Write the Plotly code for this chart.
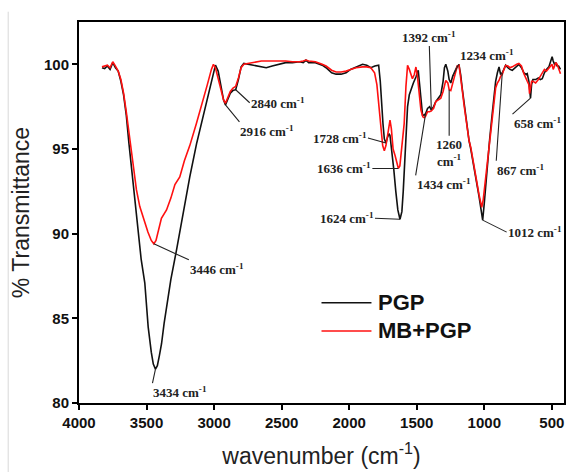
import plotly.graph_objects as go

# PGP (black) spectrum: wavenumber (cm-1) and % transmittance
pgp_w = [3830, 3810, 3790, 3770, 3750, 3730, 3710, 3690, 3670, 3650, 3630, 3600, 3570, 3540, 3513, 3488,
         3465, 3450, 3434, 3420, 3405, 3389, 3370, 3352, 3320, 3279, 3230, 3180, 3130, 3082, 3040, 3010,
         2990, 2970, 2950, 2930, 2916, 2900, 2880, 2861, 2840, 2820, 2800, 2780, 2750, 2700, 2650, 2614,
         2570, 2520, 2470, 2420, 2368, 2340, 2320, 2300, 2250, 2200, 2171, 2130, 2097, 2060, 2023, 1990,
         1950, 1901, 1870, 1840, 1810, 1782, 1770, 1760, 1750, 1740, 1728, 1716, 1705, 1698, 1685, 1670,
         1655, 1640, 1624, 1610, 1600, 1593, 1580, 1568, 1555, 1543, 1525, 1506, 1489, 1475, 1457, 1445,
         1434, 1420, 1405, 1392, 1375, 1359, 1340, 1322, 1305, 1295, 1285, 1270, 1260, 1248, 1234, 1216,
         1200, 1187, 1175, 1162, 1150, 1137, 1125, 1113, 1100, 1088, 1075, 1064, 1050, 1039, 1025, 1012,
         1000, 990, 978, 960, 941, 928, 916, 903, 891, 879, 867, 855, 842, 825, 810, 793,
         775, 760, 744, 725, 707, 690, 682, 670, 665, 658, 650, 640, 620, 600, 585, 571,
         555, 540, 522, 510, 498, 490, 480, 470, 461, 450, 436]
pgp_t = [99.8, 99.75, 99.9, 99.7, 100.1, 99.8, 99.6, 99.0, 98.2, 97.0, 95.3, 93.0, 90.6, 88.5, 87.1, 84.5,
         83.0, 82.3, 82.0, 82.2, 82.8, 83.5, 84.7, 85.7, 87.3, 89.0, 91.2, 93.35, 95.3, 96.9, 98.3, 99.4,
         99.95, 99.6, 98.8, 97.9, 97.6, 97.9, 98.3, 98.45, 98.5, 99.1, 99.85, 100.05, 100.0, 99.95, 99.85, 99.8,
         99.9, 100.0, 100.1, 100.1, 100.15, 100.1, 100.25, 100.1, 100.1, 99.95, 99.8, 99.5, 99.42, 99.42, 99.5, 99.7,
         99.85, 100.0, 99.95, 99.8, 99.9, 99.95, 99.0, 97.6, 96.5, 95.6, 95.35, 95.7, 95.9, 95.8, 95.0, 93.8,
         92.5, 91.4, 90.85, 91.3, 92.5, 93.6, 95.6, 97.5, 98.2, 98.5, 98.9, 99.25, 99.65, 98.5, 97.0, 97.0,
         97.1, 97.4, 97.5, 97.3, 97.5, 97.8, 98.0, 98.2, 99.0, 99.8, 100.0, 99.6, 99.1, 98.9, 99.3, 99.6,
         99.9, 99.95, 99.4, 98.5, 97.7, 96.9, 96.1, 95.5, 95.0, 94.5, 93.9, 93.3, 92.7, 92.2, 91.4, 90.8,
         91.8, 92.9, 94.0, 95.6, 97.1, 98.1, 99.0, 99.5, 99.84, 99.4, 99.5, 99.7, 99.95, 99.8, 99.7, 99.65,
         99.8, 99.9, 100.0, 99.8, 99.5, 99.4, 99.45, 99.0, 98.3, 98.0, 98.8, 99.1, 99.1, 99.2, 99.1, 99.15,
         99.5, 99.7, 99.85, 100.1, 100.45, 100.2, 100.0, 100.1, 99.9, 99.9, 99.7]

# MB+PGP (red) spectrum
mb_w = [3830, 3810, 3790, 3770, 3750, 3730, 3710, 3690, 3670, 3650, 3630, 3600, 3575, 3550, 3520, 3490,
        3465, 3446, 3430, 3410, 3390, 3352, 3320, 3290, 3254, 3220, 3180, 3131, 3090, 3050, 3020, 3005,
        2990, 2970, 2950, 2930, 2916, 2900, 2880, 2860, 2840, 2820, 2800, 2780, 2750, 2700, 2650, 2614,
        2570, 2520, 2470, 2420, 2368, 2340, 2320, 2300, 2250, 2200, 2171, 2130, 2097, 2060, 2023, 1990,
        1950, 1901, 1870, 1840, 1812, 1795, 1780, 1765, 1752, 1740, 1728, 1712, 1698, 1688, 1675, 1660,
        1645, 1636, 1625, 1612, 1600, 1593, 1580, 1568, 1555, 1545, 1532, 1518, 1506, 1495, 1480, 1469,
        1455, 1445, 1434, 1420, 1405, 1392, 1375, 1359, 1340, 1322, 1305, 1285, 1270, 1260, 1248, 1234,
        1216, 1200, 1187, 1175, 1162, 1150, 1137, 1125, 1113, 1100, 1088, 1075, 1064, 1050, 1039, 1025,
        1019, 1008, 1000, 990, 978, 960, 941, 928, 916, 903, 891, 879, 867, 855, 842, 825,
        810, 793, 775, 760, 744, 725, 707, 690, 682, 670, 665, 658, 650, 640, 620, 600,
        585, 571, 555, 540, 522, 510, 498, 490, 480, 470, 461, 450, 436]
mb_t = [99.85, 99.9, 99.95, 99.8, 100.15, 99.9, 99.6, 99.1, 98.3, 97.2, 96.0, 94.3, 92.6, 91.6, 90.8, 90.1,
        89.6, 89.4, 89.6, 90.2, 90.9, 91.4, 92.1, 92.9, 93.35, 94.3, 95.2, 96.5, 97.6, 98.8, 99.7, 100.0,
        99.8, 99.2, 98.5, 97.9, 97.7, 98.0, 98.4, 98.6, 98.7, 99.2, 99.8, 100.0, 100.05, 100.15, 100.2, 100.2,
        100.2, 100.2, 100.2, 100.15, 100.15, 100.2, 100.25, 100.2, 100.15, 100.0, 99.9, 99.65, 99.55, 99.55, 99.6, 99.7,
        99.8, 99.85, 99.85, 99.8, 99.5, 98.8, 97.5, 96.2, 95.2, 94.9, 95.2, 96.0, 96.7, 96.2, 95.0, 94.6,
        94.1, 93.85, 94.0, 95.0, 96.0, 96.5, 98.7, 99.94, 99.7, 99.4, 99.15, 99.4, 99.84, 99.3, 98.2, 97.3,
        96.9, 96.85, 96.95, 97.2, 97.2, 97.25, 97.4, 97.8, 97.9, 98.0, 98.4, 99.05, 98.9, 98.5, 98.45, 98.9,
        99.5, 99.9, 99.95, 99.3, 98.4, 97.6, 96.8, 96.1, 95.5, 95.1, 94.6, 94.0, 93.4, 92.8, 92.3, 91.7,
        91.55, 92.0, 92.6, 93.4, 94.2, 95.6, 97.0, 97.9, 98.6, 98.9, 99.05, 99.3, 99.4, 99.7, 99.94, 99.9,
        99.8, 99.85, 99.95, 100.0, 100.05, 99.9, 99.45, 99.2, 99.0, 98.8, 98.27, 98.6, 99.0, 99.0, 98.9, 99.1,
        99.3, 99.45, 99.7, 99.6, 99.75, 99.9, 100.0, 99.7, 99.9, 100.1, 100.0, 99.7, 99.45]

series_names = ["PGP", "MB+PGP"]
series_colors = ["#111111", "#ff1010"]

# Peak labels
peak_w = [3434, 3446, 2916, 2840, 1728, 1636, 1624, 1434, 1392, 1260, 1234, 1012, 867, 658]
peak_series = ["pgp", "mb", "pgp", "pgp", "pgp", "mb", "pgp", "pgp", "pgp", "mb", "pgp", "pgp", "pgp", "pgp"]
peak_text = ["3434 cm<sup>-1</sup>", "3446 cm<sup>-1</sup>", "2916 cm<sup>-1</sup>", "2840 cm<sup>-1</sup>",
             "1728 cm<sup>-1</sup>", "1636 cm<sup>-1</sup>", "1624 cm<sup>-1</sup>", "1434 cm<sup>-1</sup>",
             "1392 cm<sup>-1</sup>", "1260<br>cm<sup>-1</sup>", "1234 cm<sup>-1</sup>", "1012 cm<sup>-1</sup>",
             "867 cm<sup>-1</sup>", "658 cm<sup>-1</sup>"]
peak_ax = [-3, 35, 14, 14, -18, -26, -25, -10, -2, 0, 6, 24, -6, -18]
peak_ay = [14, 16, 17, 13, -5, 0, -1, 62, -64, 46, -12, 12, 88, 16]
peak_xanchor = ["left", "left", "left", "left", "right", "right", "right", "left", "center", "center", "left", "left", "left", "left"]
peak_yanchor = ["top", "top", "top", "middle", "middle", "middle", "middle", "top", "bottom", "top", "bottom", "middle", "top", "top"]

x_ticks = [4000, 3500, 3000, 2500, 2000, 1500, 1000, 500]
y_ticks = [80, 85, 90, 95, 100]


def value_at(ws, ts, w):
    for i in range(len(ws) - 1):
        if ws[i] >= w >= ws[i + 1]:
            f = (ws[i] - w) / (ws[i] - ws[i + 1])
            return ts[i] + f * (ts[i + 1] - ts[i])
    return ts[-1]


fig = go.Figure()
fig.add_trace(go.Scatter(x=pgp_w, y=pgp_t, mode="lines", name=series_names[0],
                         line=dict(color=series_colors[0], width=1.6)))
fig.add_trace(go.Scatter(x=mb_w, y=mb_t, mode="lines", name=series_names[1],
                         line=dict(color=series_colors[1], width=1.6)))

for w, s, t, ax, ay, xa, ya in zip(peak_w, peak_series, peak_text, peak_ax, peak_ay, peak_xanchor, peak_yanchor):
    yv = value_at(pgp_w, pgp_t, w) if s == "pgp" else value_at(mb_w, mb_t, w)
    fig.add_annotation(x=w, y=yv, text=t, showarrow=True, arrowhead=0, arrowwidth=1.1,
                       arrowcolor="#222222", ax=ax, ay=ay, xanchor=xa, yanchor=ya,
                       borderpad=0, standoff=0,
                       font=dict(family="Liberation Serif", size=13, color="#222222", weight="bold"))

# legend drawn by hand so its line samples are as long as in the original
leg_x0, leg_x1, leg_tx = 0.5, 0.603, 0.612
leg_y = [0.263, 0.189]
for name, col, ly in zip(series_names, series_colors, leg_y):
    fig.add_shape(type="line", xref="paper", yref="paper", x0=leg_x0, x1=leg_x1, y0=ly, y1=ly,
                  line=dict(color=col, width=1.6))
    fig.add_annotation(xref="paper", yref="paper", x=leg_tx, y=ly, text=name, showarrow=False,
                       xanchor="left", yanchor="middle",
                       font=dict(family="Liberation Sans", size=22, color="#111111", weight="bold"))

# faint vertical border line at the image's left edge
fig.add_shape(type="line", xref="paper", yref="paper", x0=-0.146, x1=-0.146, y0=-0.2, y1=1.027,
              line=dict(color="#d8d8d8", width=1))

fig.update_layout(
    width=568, height=472,
    margin=dict(l=79, r=2, t=22, b=69),
    paper_bgcolor="white", plot_bgcolor="white",
    showlegend=False,
    font=dict(family="Liberation Sans"),
)
fig.update_xaxes(range=[4000, 410], tickvals=x_ticks, ticks="outside", ticklen=5, tickwidth=1.5,
                 tickcolor="black", showline=True, linecolor="black", linewidth=2, mirror=True,
                 showgrid=False, zeroline=False,
                 tickfont=dict(family="Liberation Sans", size=15, color="#111111", weight="bold"),
                 title=dict(text="wavenumber (cm<sup>-1</sup>)", standoff=18,
                            font=dict(family="Liberation Sans", size=23, color="#222222")))
fig.update_yaxes(range=[80, 102.5], tickvals=y_ticks, ticks="outside", ticklen=5, tickwidth=1.5,
                 tickcolor="black", showline=True, linecolor="black", linewidth=2, mirror=True,
                 showgrid=False, zeroline=False,
                 tickfont=dict(family="Liberation Sans", size=15, color="#111111", weight="bold"),
                 title=dict(text="% Transmittance", standoff=8,
                            font=dict(family="Liberation Sans", size=23, color="#222222")))

fig.write_html("out.html")
